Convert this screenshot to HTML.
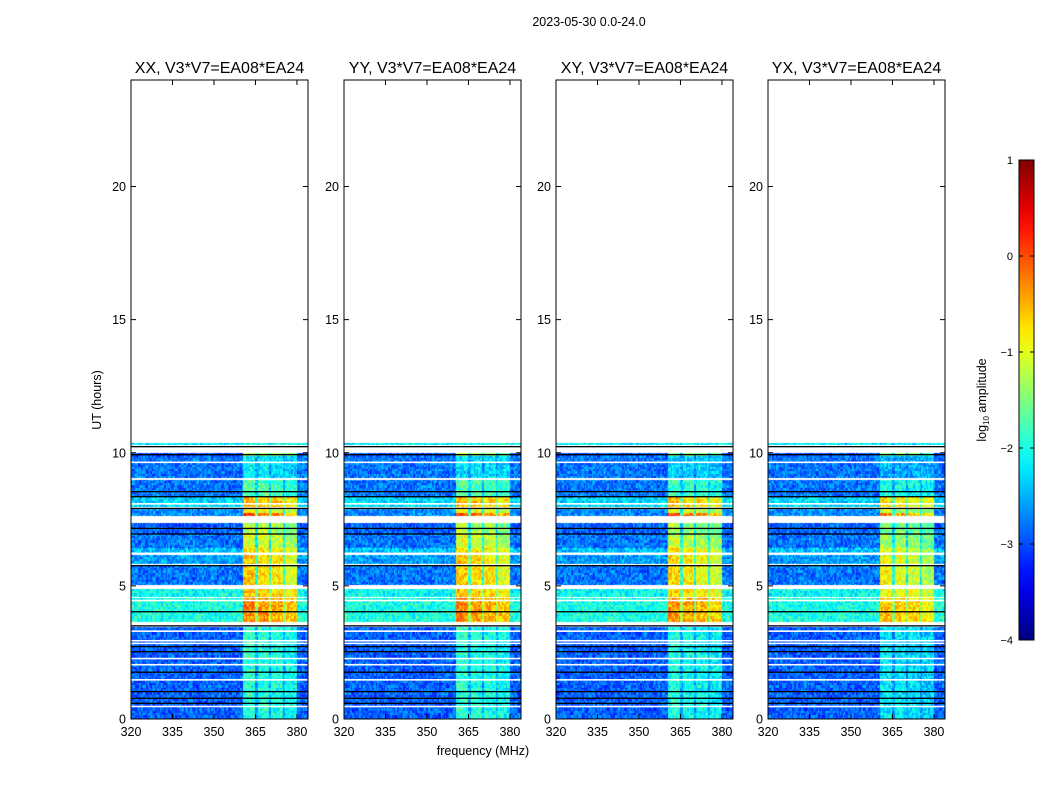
<!DOCTYPE html>
<html><head><meta charset="utf-8"><style>
body{margin:0;background:#fff;}
#wrap{position:relative;width:1050px;height:800px;font-family:"Liberation Sans",sans-serif;}
canvas{position:absolute;}
svg{position:absolute;left:0;top:0;}
</style></head><body>
<div id="wrap">
<svg id="svg" width="1050" height="800"></svg>
</div>
<script>
// ---- data ----
const panelTitles = ["XX, V3*V7=EA08*EA24","YY, V3*V7=EA08*EA24","XY, V3*V7=EA08*EA24","YX, V3*V7=EA08*EA24"];
const panelLefts = [131,344,556,768];
const panelRfiShift = [0, 0, -0.1, -0.3];
const xTicks = [320,335,350,365,380];
const yTicks = [0,5,10,15,20];
const cbTicks = [1,0,-1,-2,-3,-4];
// time segments: [startHour, endHour, baseLog, rfiLog]
const segStart = [10.28,9.88,9.04,8.35,7.95,7.72,7.62,6.95,6.41,6.22,5.84,5.03,4.60,3.65,0.00];
const segEnd   = [10.36,10.0,9.88,8.98,8.35,7.90,7.72,7.37,6.95,6.41,6.16,5.76,4.87,4.53,3.47];
const segBase  = [-2.2,-3.0,-2.8,-2.8,-2.3,-2.7,-2.7,-2.9,-2.8,-2.4,-2.6,-2.8,-2.1,-2.0,-2.9];
const segRfi   = [-2.0,-1.2,-2.2,-1.7,-0.5,-0.9,0.0,-1.2,-1.0,-0.7,-0.6,-0.6,-0.6,-0.3,-1.9];
const whiteLines = [9.64,8.08,6.22,4.45,3.30,2.94,2.84,2.27,2.04,1.47,0.47];
const blackLines = [10.23,9.93,8.54,8.35,7.91,7.16,6.95,5.76,4.03,3.50,2.72,2.53,1.76,1.03,0.78,0.59];
// RFI frequency bands (MHz)
const bandStart = [360.5,366.0,370.7,375.7];
const bandEnd   = [365.0,370.0,375.0,380.0];
const bandGain  = [1.0,0.95,0.9,0.8];
const gapGain = 0.4;

// ---- scales ----
const TOP=80, BOT=719, W=177, FMIN=320, FMAX=384, HMAX=24;
const xs = f => (f-FMIN)/(FMAX-FMIN)*W;
const ys = h => BOT - h/HMAX*(BOT-TOP);
function jet(v){
  const r=Math.min(Math.max(Math.min(4*v-1.5,-4*v+4.5),0),1);
  const g=Math.min(Math.max(Math.min(4*v-0.5,-4*v+3.5),0),1);
  const b=Math.min(Math.max(Math.min(4*v+0.5,-4*v+2.5),0),1);
  return [r*255|0,g*255|0,b*255|0];
}
function hash(a,b){let h=(a*374761393+b*668265263)^0x5bd1e995;h=(h^(h>>>13))*1274126177;h^=h>>>16;return ((h>>>0)%1000)/1000-0.5;}
const NS="http://www.w3.org/2000/svg";
const svg=document.getElementById('svg');
function el(tag,attrs,txt){const e=document.createElementNS(NS,tag);for(const k in attrs)e.setAttribute(k,attrs[k]);if(txt!==undefined)e.textContent=txt;svg.appendChild(e);return e;}

const wrap=document.getElementById('wrap');
panelLefts.forEach((L,p)=>{
  const cv=document.createElement('canvas');
  cv.width=W;cv.height=BOT-TOP;cv.style.left=L+'px';cv.style.top=TOP+'px';
  
  
  wrap.insertBefore(cv,svg);
  const ctx=cv.getContext('2d');
  const img=ctx.createImageData(W,BOT-TOP);
  for(let y=0;y<BOT-TOP;y++){
    const h=(BOT-TOP-y-0.5)/(BOT-TOP)*HMAX;
    let s=-1;
    for(let k=0;k<segStart.length;k++) if(h>=segStart[k]&&h<segEnd[k]){s=k;break;}
    for(let x=0;x<W;x++){
      const i=(y*W+x)*4;
      if(s<0){img.data[i]=img.data[i+1]=img.data[i+2]=255;img.data[i+3]=255;continue;}
      const f=FMIN+(x+0.5)/W*(FMAX-FMIN);
      let band=0;
      if(f>=bandStart[0]&&f<bandEnd[bandEnd.length-1]) band=gapGain;
      for(let b=0;b<bandStart.length;b++) if(f>=bandStart[b]&&f<bandEnd[b]) band=bandGain[b];
      const base=segBase[s], rfi=segRfi[s]+panelRfiShift[p];
      let v = band>0 ? base+(Math.max(rfi,base)-base)*band : base;
      v += 0.8*hash(Math.floor(f*2)+p*97, Math.floor(y/2.3));
      const c=jet(Math.min(Math.max((v+4)/5,0),1));
      img.data[i]=c[0];img.data[i+1]=c[1];img.data[i+2]=c[2];img.data[i+3]=255;
    }
  }
  ctx.putImageData(img,0,0);
  whiteLines.forEach(h=>{const r=el('rect',{x:L,y:ys(h)-0.8,width:W,height:1.6,fill:'#fff'});
    });
  blackLines.forEach(h=>{const r=el('rect',{x:L,y:ys(h)-0.6,width:W,height:1.3,fill:'#000'});
    });
  const fr=el('rect',{x:L,y:TOP,width:W,height:BOT-TOP,fill:'none',stroke:'#000','stroke-width':1});
  
  const t=el('text',{x:L+W/2,y:TOP-7,'text-anchor':'middle','font-size':16},panelTitles[p]);
  
  xTicks.forEach(v=>{const x=L+xs(v);
    el('line',{x1:x,x2:x,y1:BOT,y2:BOT-5,stroke:'#000'});
    el('line',{x1:x,x2:x,y1:TOP,y2:TOP+5,stroke:'#000'});
    const tl=el('text',{x:x,y:BOT+17,'text-anchor':'middle','font-size':12.5},String(v));
    });
  yTicks.forEach(v=>{const y=ys(v);
    el('line',{x1:L,x2:L+5,y1:y,y2:y,stroke:'#000'});
    el('line',{x1:L+W,x2:L+W-5,y1:y,y2:y,stroke:'#000'});
    const tl=el('text',{x:L-5,y:y+4.5,'text-anchor':'end','font-size':12.5},String(v));
    });
});
let e;
e=el('text',{x:589,y:26,'text-anchor':'middle','font-size':12.5},'2023-05-30 0.0-24.0');

e=el('text',{x:483,y:755,'text-anchor':'middle','font-size':12.5},'frequency (MHz)');

e=el('text',{x:101,y:400,'text-anchor':'middle','font-size':12.5,transform:'rotate(-90 101 400)'},'UT (hours)');

const CBX=1019,CBW=15,CBT=160,CBB=640;
const defs=el('defs',{});
const lg=document.createElementNS(NS,'linearGradient');lg.setAttribute('id','jetg');lg.setAttribute('x1','0');lg.setAttribute('y1','1');lg.setAttribute('x2','0');lg.setAttribute('y2','0');
for(let k=0;k<=20;k++){const c=jet(k/20);const st=document.createElementNS(NS,'stop');st.setAttribute('offset',k/20);st.setAttribute('stop-color',`rgb(${c[0]},${c[1]},${c[2]})`);lg.appendChild(st);}
defs.appendChild(lg);
e=el('rect',{x:CBX,y:CBT,width:CBW,height:CBB-CBT,fill:'url(#jetg)',stroke:'#000'});

cbTicks.forEach(v=>{const y=CBB-(v+4)/5*(CBB-CBT);
  el('line',{x1:CBX,x2:CBX+4,y1:y,y2:y,stroke:'#000'});
  el('line',{x1:CBX+CBW,x2:CBX+CBW-4,y1:y,y2:y,stroke:'#000'});
  const tl=el('text',{x:CBX-6,y:y+4,'text-anchor':'end','font-size':11},v<0?'\u2212'+(-v):String(v));
  });
e=el('text',{x:986,y:400,'text-anchor':'middle','font-size':12.5,transform:'rotate(-90 986 400)'});
e.innerHTML='log<tspan font-size="8" dy="3">10</tspan><tspan dy="-3"> amplitude</tspan>';

</script>
</body></html>
